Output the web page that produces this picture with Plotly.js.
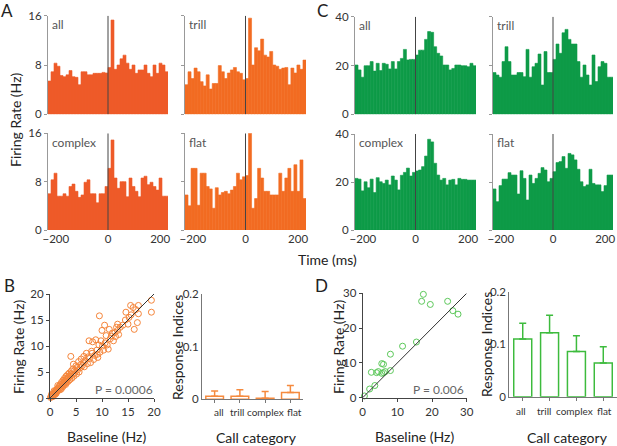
<!DOCTYPE html>
<html><head><meta charset="utf-8">
<script src="https://cdn.plot.ly/plotly-3.0.1.min.js"></script>
<style>html,body{margin:0;padding:0;background:#fff}#c{width:617px;height:446px}</style>
</head><body><div id="c"></div>
<script>
// ---------- DATA ----------
const binWidth = 11.5;           // ms per bin, 20 bins each side of 0
const histRange = [-230, 230];
const timeTicks = [-200, 0, 200];

const aAll = [5.4,6.9,8.3,7.8,6.3,6.1,6.4,7.1,6.1,6.0,4.8,6.9,6.9,6.4,6.4,6.65,6.65,6.65,6.8,6.7,
              7.6,15.3,7.3,8.0,9.0,9.6,8.3,7.3,8.0,6.65,7.2,7.2,8.0,6.65,6.1,8.0,6.65,8.3,8.0,6.9];
const aTrill = [4.8,6.9,5.8,7.5,6.9,5.3,4.6,6.4,4.1,5.0,5.0,7.9,6.9,5.8,6.7,7.2,7.6,6.9,6.65,5.6,
                5.8,15.6,8.0,10.8,10.3,12.2,9.6,9.3,10.2,8.0,7.8,7.3,7.5,7.6,4.8,7.5,6.7,8.0,7.3,8.8];
const aComplex = [6.0,8.3,9.4,5.6,5.6,6.0,5.6,7.2,7.6,6.4,5.4,5.8,7.9,8.3,6.0,6.0,4.5,6.0,6.0,7.2,
                  10.2,14.9,8.6,6.9,8.0,8.0,5.5,8.6,7.2,6.4,5.5,8.6,8.9,7.5,7.9,7.2,6.6,8.6,5.6,5.6];
const aFlat = [5.8,4.0,10.2,10.2,4.1,9.4,9.4,7.2,6.8,3.6,7.0,5.8,6.2,6.4,6.0,6.6,7.2,9.4,8.3,8.8,
               9.0,16.3,3.6,5.2,10.2,8.6,6.4,6.4,5.8,5.8,5.8,9.4,6.4,8.6,10.2,6.4,10.8,6.4,11.6,5.2];
const cAll = [20.2,18.2,15.2,19.9,19.9,21.6,17.7,20.9,17.9,20.9,20.5,18.6,21.6,18.6,21.6,22.9,26.6,22.3,22.5,22.5,
              24.3,26.3,26.3,30.7,33.9,33.6,27.7,25.0,23.9,20.2,20.2,18.2,18.8,20.2,20.2,19.9,19.9,19.5,20.9,19.9];
const cTrill = [17.1,16.1,15.2,21.6,27.7,21.6,16.1,16.1,17.1,17.1,15.4,26.6,15.2,19.5,20.9,24.7,12.0,25.7,17.1,17.1,
                22.5,28.8,25.0,33.4,34.8,30.7,28.8,28.8,21.6,15.2,20.2,16.1,12.0,24.3,13.4,19.5,21.6,20.9,15.2,15.2];
const cComplex = [21.5,21.2,16.3,20.1,17.6,21.2,15.6,21.8,20.1,19.4,20.8,18.8,22.5,20.8,16.7,22.8,24.0,25.8,22.5,24.0,
                  24.6,25.0,26.4,30.8,37.8,36.7,27.8,22.9,20.8,21.5,18.8,20.8,21.1,18.8,21.5,21.1,21.1,20.8,20.8,20.8];
const cFlat = [17.1,11.8,18.5,21.2,21.2,23.9,22.9,22.9,15.0,24.7,21.5,12.5,22.9,19.4,21.5,23.6,26.0,25.0,20.1,21.5,
               24.3,28.1,28.5,30.6,25.7,31.9,31.3,29.2,25.3,20.1,18.1,18.8,25.3,19.4,18.8,18.8,16.0,18.5,22.9,22.9];

const baseB = [0.1,0.2,0.3,0.4,0.5,0.6,0.7,0.8,0.9,1.0,1.1,1.2,1.3,1.4,1.5,1.6,1.7,1.8,1.9,2.0,2.1,2.2,2.3,2.4,2.5,2.6,2.7,2.8,2.9,3.0,
  3.1,3.2,3.3,3.4,3.5,3.6,3.7,3.8,3.9,4.0,4.1,4.2,4.3,4.4,4.5,4.6,4.8,5.0,5.1,5.3,5.5,5.6,5.8,6.0,6.2,6.5,6.6,6.8,7.0,7.2,
  7.5,7.6,7.8,8.0,8.2,8.4,8.6,8.8,9.0,9.2,9.4,9.5,9.6,9.8,10.0,10.1,10.3,10.5,10.6,10.8,11.0,11.2,11.4,11.6,12.0,12.2,12.5,12.8,13.0,13.0,
  13.2,13.5,14.0,14.5,14.6,15.0,15.2,15.5,15.6,16.0,16.2,16.5,16.8,17.0,17.0,19.5,19.5,
  0.3,0.6,1.0,1.5,2.0,2.5,3.0,3.5,1.2,0.8,4.0,5.2,6.4,2.2,2.8,3.2,4.7,5.9,7.3,8.1,9.1,11.8,12.6];
const rateB = [0.1,0.3,0.2,0.5,0.4,0.8,0.6,1.0,0.8,1.3,1.0,1.5,1.2,1.8,1.4,2.0,1.6,2.3,1.9,2.6,2.0,3.0,2.4,2.8,3.4,2.5,3.0,3.8,2.8,3.3,
  4.2,3.0,3.6,4.5,3.2,3.9,4.8,3.5,4.2,8.0,5.2,3.8,4.5,5.6,6.5,4.2,4.9,6.2,4.6,5.4,7.0,5.0,5.8,7.5,6.2,8.0,6.0,7.2,8.6,6.6,
  11.0,7.6,6.8,9.0,10.8,7.4,8.2,11.2,9.2,7.8,10.2,15.8,8.8,11.0,13.0,10.0,9.2,14.0,10.6,12.0,10.2,9.4,13.2,11.4,12.5,11.0,12.6,13.6,13.0,14.2,
  12.2,13.6,14.0,15.0,16.5,14.2,15.5,17.8,16.0,17.4,13.2,17.0,14.5,17.8,16.2,18.8,16.5,
  0.7,0.3,0.7,2.4,1.6,2.2,2.6,4.1,0.9,1.4,4.6,5.9,6.8,1.8,3.3,3.8,5.3,6.4,7.9,8.6,8.4,11.9,11.8];

const baseD = [0.5,2.0,3.5,2.5,4.0,4.5,5.5,6.0,5.5,6.0,6.5,8.0,8.0,11.5,15.5,17.0,17.5,19.5,24.5,26.0,27.5];
const rateD = [0.5,2.5,3.5,7.3,7.2,7.5,9.8,9.6,7.0,7.2,7.5,7.8,12.5,14.8,16.0,27.7,29.7,26.8,27.7,25.0,24.0];

const categories = ['all','trill','complex','flat'];
const riB = [0.006,0.006,0.002,0.013];
const riBerr = [0.010,0.012,0.013,0.013];
const riD = [0.110,0.122,0.086,0.064];
const riDerr = [0.030,0.033,0.030,0.031];

// ---------- LAYOUT HELPERS ----------
const W = 617, H = 446;
const xd = (a,b) => [a/W, b/W];
const yd = (top,bottom) => [1-bottom/H, 1-top/H];
const FONT = 'Lato, Open Sans, sans-serif';
const tickFont = {family: FONT, size: 11.5, color: '#333'};
const orangeDark = '#EE5A29', orangeLight = '#F26B22', green = '#0E9B48';
const scatOrange = '#F5853A', scatGreen = '#5CC85A';
const barOrange = '#F58A3E', barGreen = '#3DBB3D';

const binCenters = [];
for (let i = 0; i < 40; i++) binCenters.push(histRange[0] + binWidth*(i+0.5));

const hists = [
  {v:aAll, col:orangeDark, xp:[48,168], yp:[15.7,114.3], ymax:16, yt:[0,8,16], left:true, bottom:false, lab:'all'},
  {v:aTrill, col:orangeLight, xp:[185,306], yp:[15.7,114.3], ymax:16, yt:[0,8,16], left:false, bottom:false, lab:'trill'},
  {v:aComplex, col:orangeDark, xp:[48,168], yp:[133.3,230], ymax:16, yt:[0,8,16], left:true, bottom:true, lab:'complex'},
  {v:aFlat, col:orangeLight, xp:[185,306], yp:[133.3,230], ymax:16, yt:[0,8,16], left:false, bottom:true, lab:'flat'},
  {v:cAll, col:green, xp:[355,476], yp:[16.7,114.3], ymax:40, yt:[0,20,40], left:true, bottom:false, lab:'all'},
  {v:cTrill, col:green, xp:[493,613], yp:[16.7,114.3], ymax:40, yt:[0,20,40], left:false, bottom:false, lab:'trill'},
  {v:cComplex, col:green, xp:[355,476], yp:[134,230], ymax:40, yt:[0,20,40], left:true, bottom:true, lab:'complex'},
  {v:cFlat, col:green, xp:[493,613], yp:[134,230], ymax:40, yt:[0,20,40], left:false, bottom:true, lab:'flat'}
];

const data = [], shapes = [], annotations = [];
const layout = {
  width: W, height: H, margin: {l:0,r:0,t:0,b:0},
  paper_bgcolor: '#fff', plot_bgcolor: 'rgba(0,0,0,0)',
  showlegend: false, font: {family: FONT, color: '#333'},
  shapes: shapes, annotations: annotations
};
const ax = i => (i === 1 ? '' : String(i));

hists.forEach((h, k) => {
  const i = k + 1, s = ax(i);
  data.push({type:'bar', x: binCenters, y: h.v, width: binWidth, xaxis:'x'+s, yaxis:'y'+s,
             marker:{color:h.col, line:{width:0.6, color:h.col}}, hoverinfo:'skip'});
  layout['xaxis'+s] = {domain: xd(h.xp[0], h.xp[1]), anchor:'y'+s, range: histRange,
    tickvals: timeTicks, showticklabels: h.bottom, ticks:'', showline:false, zeroline:false,
    showgrid:false, tickfont: tickFont, fixedrange:true};
  layout['yaxis'+s] = {domain: yd(h.yp[0], h.yp[1]), anchor:'x'+s, range:[0, h.ymax],
    tickvals: h.yt, showticklabels: h.left, ticks:'outside', ticklen:3, tickcolor:'#999',
    showline:true, linecolor:'#999', linewidth:1, zeroline:false, showgrid:false,
    tickfont: tickFont, fixedrange:true};
  shapes.push({type:'line', xref:'x'+s, yref:'y'+s, x0:0, x1:0, y0:0, y1:h.ymax,
               line:{color:'#444', width:1}});
  annotations.push({xref:'paper', yref:'paper', x:(h.xp[0]+2)/W, y:1-(h.yp[0]+9)/H,
    text:h.lab, showarrow:false, xanchor:'left', yanchor:'middle',
    font:{family:FONT, size:12, color:'#555'}});
});

// Scatter B (panel 9)
data.push({type:'scatter', mode:'markers', x: baseB, y: rateB, xaxis:'x9', yaxis:'y9', cliponaxis:false,
  marker:{symbol:'circle-open', size:6, color:scatOrange, line:{width:1, color:scatOrange}}, hoverinfo:'skip'});
layout.xaxis9 = {domain: xd(50,154), anchor:'y9', range:[0,20], tickvals:[0,5,10,15,20],
  ticks:'outside', ticklen:3, tickcolor:'#444', showline:true, linecolor:'#444', zeroline:false,
  showgrid:false, tickfont:tickFont, fixedrange:true};
layout.yaxis9 = {domain: yd(294,398), anchor:'x9', range:[0,20], tickvals:[0,5,10,15,20],
  ticks:'outside', ticklen:3, tickcolor:'#444', showline:true, linecolor:'#444', zeroline:false,
  showgrid:false, tickfont:tickFont, fixedrange:true};
shapes.push({type:'line', xref:'x9', yref:'y9', x0:0, y0:0, x1:20, y1:20, line:{color:'#333', width:1}});

// Bars B (panel 10)
data.push({type:'bar', x: categories, y: riB, xaxis:'x10', yaxis:'y10', width:0.7,
  marker:{color:'#fff', line:{color:barOrange, width:1.5}},
  error_y:{type:'data', symmetric:false, array:riBerr, arrayminus:[0,0,0,0], color:barOrange, thickness:1.5, width:3.5},
  hoverinfo:'skip'});
layout.xaxis10 = {domain: xd(202,303), anchor:'y10', type:'category', range:[-0.5,3.5],
  showticklabels:false, ticks:'outside', ticklen:3, tickcolor:'#777', showline:true, linecolor:'#777', showgrid:false,
  fixedrange:true};
layout.yaxis10 = {domain: yd(294,399.3), anchor:'x10', range:[0,0.2], tickvals:[0,0.1,0.2],
  ticktext:['0','0.1','0.2'], ticks:'', showline:true, linecolor:'#777', zeroline:false,
  showgrid:false, tickfont:tickFont, fixedrange:true};

// Scatter D (panel 11)
data.push({type:'scatter', mode:'markers', x: baseD, y: rateD, xaxis:'x11', yaxis:'y11', cliponaxis:false,
  marker:{symbol:'circle-open', size:6, color:scatGreen, line:{width:1, color:scatGreen}}, hoverinfo:'skip'});
layout.xaxis11 = {domain: xd(362.7,466.7), anchor:'y11', range:[0,30], tickvals:[0,10,20,30],
  ticks:'outside', ticklen:3, tickcolor:'#444', showline:true, linecolor:'#444', zeroline:false,
  showgrid:false, tickfont:tickFont, fixedrange:true};
layout.yaxis11 = {domain: yd(293.3,397.7), anchor:'x11', range:[0,30], tickvals:[0,10,20,30],
  ticks:'outside', ticklen:3, tickcolor:'#444', showline:true, linecolor:'#444', zeroline:false,
  showgrid:false, tickfont:tickFont, fixedrange:true};
shapes.push({type:'line', xref:'x11', yref:'y11', x0:0, y0:0, x1:30, y1:30, line:{color:'#333', width:1}});

// Bars D (panel 12)
data.push({type:'bar', x: categories, y: riD, xaxis:'x12', yaxis:'y12', width:0.67,
  marker:{color:'#fff', line:{color:barGreen, width:1.5}},
  error_y:{type:'data', symmetric:false, array:riDerr, arrayminus:[0,0,0,0], color:barGreen, thickness:1.5, width:3.5},
  hoverinfo:'skip'});
layout.xaxis12 = {domain: xd(509.3,616.7), anchor:'y12', type:'category', range:[-0.5,3.5],
  showticklabels:false, ticks:'outside', ticklen:3, tickcolor:'#777', showline:true, linecolor:'#777', showgrid:false,
  fixedrange:true};
layout.yaxis12 = {domain: yd(291.7,396.7), anchor:'x12', range:[0,0.2], tickvals:[0,0.1,0.2],
  ticktext:['0','0.1','0.2'], ticks:'', showline:true, linecolor:'#777', zeroline:false,
  showgrid:false, tickfont:tickFont, fixedrange:true};

// Text annotations
function txt(x, y, t, size, opts) {
  annotations.push(Object.assign({xref:'paper', yref:'paper', x:x/W, y:1-y/H, text:t, showarrow:false,
    xanchor:'center', yanchor:'middle', font:{family:FONT, size:size, color:'#222'}}, opts||{}));
}
// category labels (tightly packed as in the reference)
const catXB = [219, 236.5, 265, 294];
const catXD = [521, 543.5, 574, 604];
categories.forEach((c, j) => {
  txt(catXB[j], 412, c, 10, {font:{family:FONT, size:10, color:'#333'}});
  txt(catXD[j], 411, c, 10, {font:{family:FONT, size:10, color:'#333'}});
});
txt(7, 11, 'A', 17);
txt(322, 11, 'C', 17);
txt(9, 285, 'B', 17);
txt(321, 285, 'D', 17);
txt(15, 120, 'Firing Rate (Hz)', 14, {textangle:-90});
txt(327, 259, 'Time (ms)', 14);
txt(18, 347, 'Firing Rate (Hz)', 14, {textangle:-90});
txt(106, 436, 'Baseline (Hz)', 14);
txt(177, 347, 'Response Indices', 14, {textangle:-90});
txt(256, 437, 'Call category', 14);
txt(338, 347, 'Firing Rate (Hz)', 14, {textangle:-90});
txt(414, 436, 'Baseline (Hz)', 14);
txt(486, 345, 'Response Indices', 14, {textangle:-90});
txt(567, 437, 'Call category', 14);
txt(155, 389, 'P = 0.0006', 12, {xanchor:'right', font:{family:FONT, size:12, color:'#666'}});
txt(466, 389, 'P = 0.006', 12, {xanchor:'right', font:{family:FONT, size:12, color:'#666'}});

Plotly.newPlot('c', data, layout, {staticPlot:true, displayModeBar:false});
</script></body></html>
